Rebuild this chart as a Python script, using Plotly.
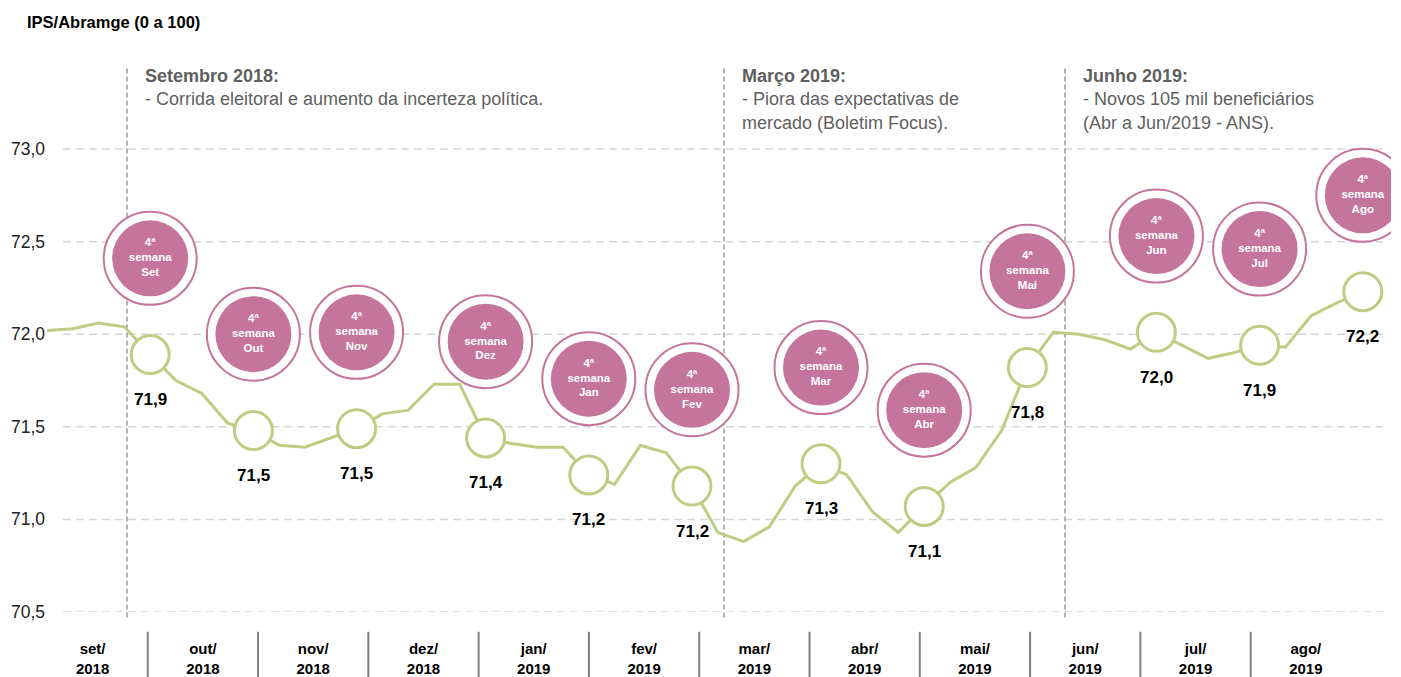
import plotly.graph_objects as go

# ---------------- data ----------------
# weekly IPS/Abramge index, set/2018 .. ago/2019 (index 0 = first week shown)
ips_weekly = [
    72.02, 72.03, 72.06, 72.04, 71.89, 71.75, 71.68, 71.52, 71.48, 71.40,
    71.39, 71.44, 71.49, 71.57, 71.59, 71.73, 71.73, 71.44, 71.41, 71.39,
    71.39, 71.24, 71.19, 71.40, 71.36, 71.18, 70.93, 70.88, 70.96, 71.18,
    71.30, 71.24, 71.04, 70.93, 71.07, 71.20, 71.28, 71.48, 71.82, 72.01,
    72.00, 71.97, 71.92, 72.01, 71.94, 71.87, 71.90, 71.94, 71.93, 72.10,
    72.17, 72.23,
]
# week index of the "4ª semana" of each month
fourth_week_idx = [4, 8, 12, 17, 21, 25, 30, 34, 38, 43, 47, 51]
fourth_week_names = ["Set", "Out", "Nov", "Dez", "Jan", "Fev",
                     "Mar", "Abr", "Mai", "Jun", "Jul", "Ago"]
month_labels = ["set/<br>2018", "out/<br>2018", "nov/<br>2018", "dez/<br>2018",
                "jan/<br>2019", "fev/<br>2019", "mar/<br>2019", "abr/<br>2019",
                "mai/<br>2019", "jun/<br>2019", "jul/<br>2019", "ago/<br>2019"]
y_ticks = [70.5, 71.0, 71.5, 72.0, 72.5, 73.0]

events_week = [3.1, 26.24, 39.46]
events_text = [
    "<b>Setembro 2018:</b><br>- Corrida eleitoral e aumento da incerteza política.",
    "<b>Março 2019:</b><br>- Piora das expectativas de<br>mercado (Boletim Focus).",
    "<b>Junho 2019:</b><br>- Novos 105 mil beneficiários<br>(Abr a Jun/2019 - ANS).",
]

# ---------------- layout helpers ----------------
FONT = "Liberation Sans, Arial, sans-serif"
GREEN = "#bfcd84"
PINK = "#c5759b"
MONTH_START = -0.37
WEEKS_PER_MONTH = 4.275
BUBBLE_OFFSET = 0.52
X_RANGE = [-0.2713, 52.093]
Y_RANGE = [70.5, 73.47]

weeks = list(range(len(ips_weekly)))
month_centers = [MONTH_START + WEEKS_PER_MONTH * (k + 0.5) for k in range(len(month_labels))]
month_bounds = [MONTH_START + WEEKS_PER_MONTH * k for k in range(1, len(month_labels))]

hx = [weeks[i] for i in fourth_week_idx]
hy = [ips_weekly[i] for i in fourth_week_idx]
by = [v + BUBBLE_OFFSET for v in hy]
bubble_text = ["4ª<br>semana<br>" + n for n in fourth_week_names]

fig = go.Figure()

# main line
fig.add_trace(go.Scatter(x=weeks, y=ips_weekly, mode="lines",
                         line=dict(color=GREEN, width=3), hoverinfo="skip"))
# highlighted 4th-week circles
fig.add_trace(go.Scatter(x=hx, y=hy, mode="markers",
                         marker=dict(size=38, color="white",
                                     line=dict(color=GREEN, width=3)),
                         hoverinfo="skip"))
# bubbles: outer ring
fig.add_trace(go.Scatter(x=hx, y=by, mode="markers",
                         marker=dict(size=93, color="white",
                                     line=dict(color=PINK, width=2)),
                         hoverinfo="skip"))
# bubbles: inner disc with text
fig.add_trace(go.Scatter(x=hx, y=by, mode="markers+text",
                         marker=dict(size=76, color=PINK, line=dict(width=0)),
                         text=bubble_text, textposition="middle center",
                         textfont=dict(family=FONT, size=11.5, color="white", weight="bold"),
                         hoverinfo="skip"))

shapes = []
# horizontal dashed grid
for t in y_ticks:
    shapes.append(dict(type="line", xref="paper", yref="y",
                       x0=0.017, x1=0.9941, y0=t, y1=t,
                       line=dict(color="#d6d6d6", width=1.5, dash="8px,5px"),
                       layer="below"))
# event vertical lines
for e in events_week:
    shapes.append(dict(type="line", xref="x", yref="paper",
                       x0=e, x1=e, y0=-0.01, y1=0.993,
                       line=dict(color="#9a9a9a", width=1.5, dash="5px,3px"),
                       layer="below"))
# month separators below axis
for b in month_bounds:
    shapes.append(dict(type="line", xref="x", yref="paper",
                       x0=b, x1=b, y0=-0.036, y1=-0.125,
                       line=dict(color="#808080", width=2)))

annotations = []
# y tick labels
for t in y_ticks:
    annotations.append(dict(xref="paper", yref="y", x=0.0052, y=t,
                            text=f"{t:.1f}".replace(".", ","), showarrow=False,
                            xanchor="right", yanchor="middle",
                            font=dict(family=FONT, size=17.5, color="#222222")))
# value labels under circles
for x, v in zip(hx, hy):
    annotations.append(dict(xref="x", yref="y", x=x, y=v, yshift=-45,
                            text=f"{v:.1f}".replace(".", ","), showarrow=False,
                            xanchor="center", yanchor="middle",
                            font=dict(family=FONT, size=17, color="black", weight="bold")))
# event texts
for e, txt in zip(events_week, events_text):
    annotations.append(dict(xref="x", yref="paper", x=e, xshift=16, y=1.0, yshift=-2,
                            text=txt, showarrow=False, align="left",
                            xanchor="left", yanchor="top",
                            font=dict(family=FONT, size=18, color="#5f5f5f")))

fig.update_layout(
    width=1401, height=677, autosize=False,
    margin=dict(l=40, r=10, t=62, b=65),
    paper_bgcolor="white", plot_bgcolor="white",
    showlegend=False,
    font=dict(family=FONT),
    title=dict(text="<b>IPS/Abramge (0 a 100)</b>", xref="container", yref="container",
               x=27 / 1401, y=1 - 22 / 677, xanchor="left", yanchor="middle",
               font=dict(family=FONT, size=16.5, color="black")),
    xaxis=dict(range=X_RANGE, showgrid=False, zeroline=False, showline=False,
               tickmode="array", tickvals=month_centers, ticktext=month_labels,
               ticks="", ticklabelstandoff=26, automargin=False,
               tickfont=dict(family=FONT, size=15, color="black", weight="bold"),
               fixedrange=True),
    yaxis=dict(range=Y_RANGE, showgrid=False, zeroline=False, showline=False,
               showticklabels=False, automargin=False, fixedrange=True),
    shapes=shapes,
    annotations=annotations,
)

fig.write_html("out.html",
               config={"displayModeBar": False, "staticPlot": True},
               post_script="document.body.style.margin='0';"
                           "document.body.style.padding='0';"
                           "document.body.style.overflow='hidden';")
